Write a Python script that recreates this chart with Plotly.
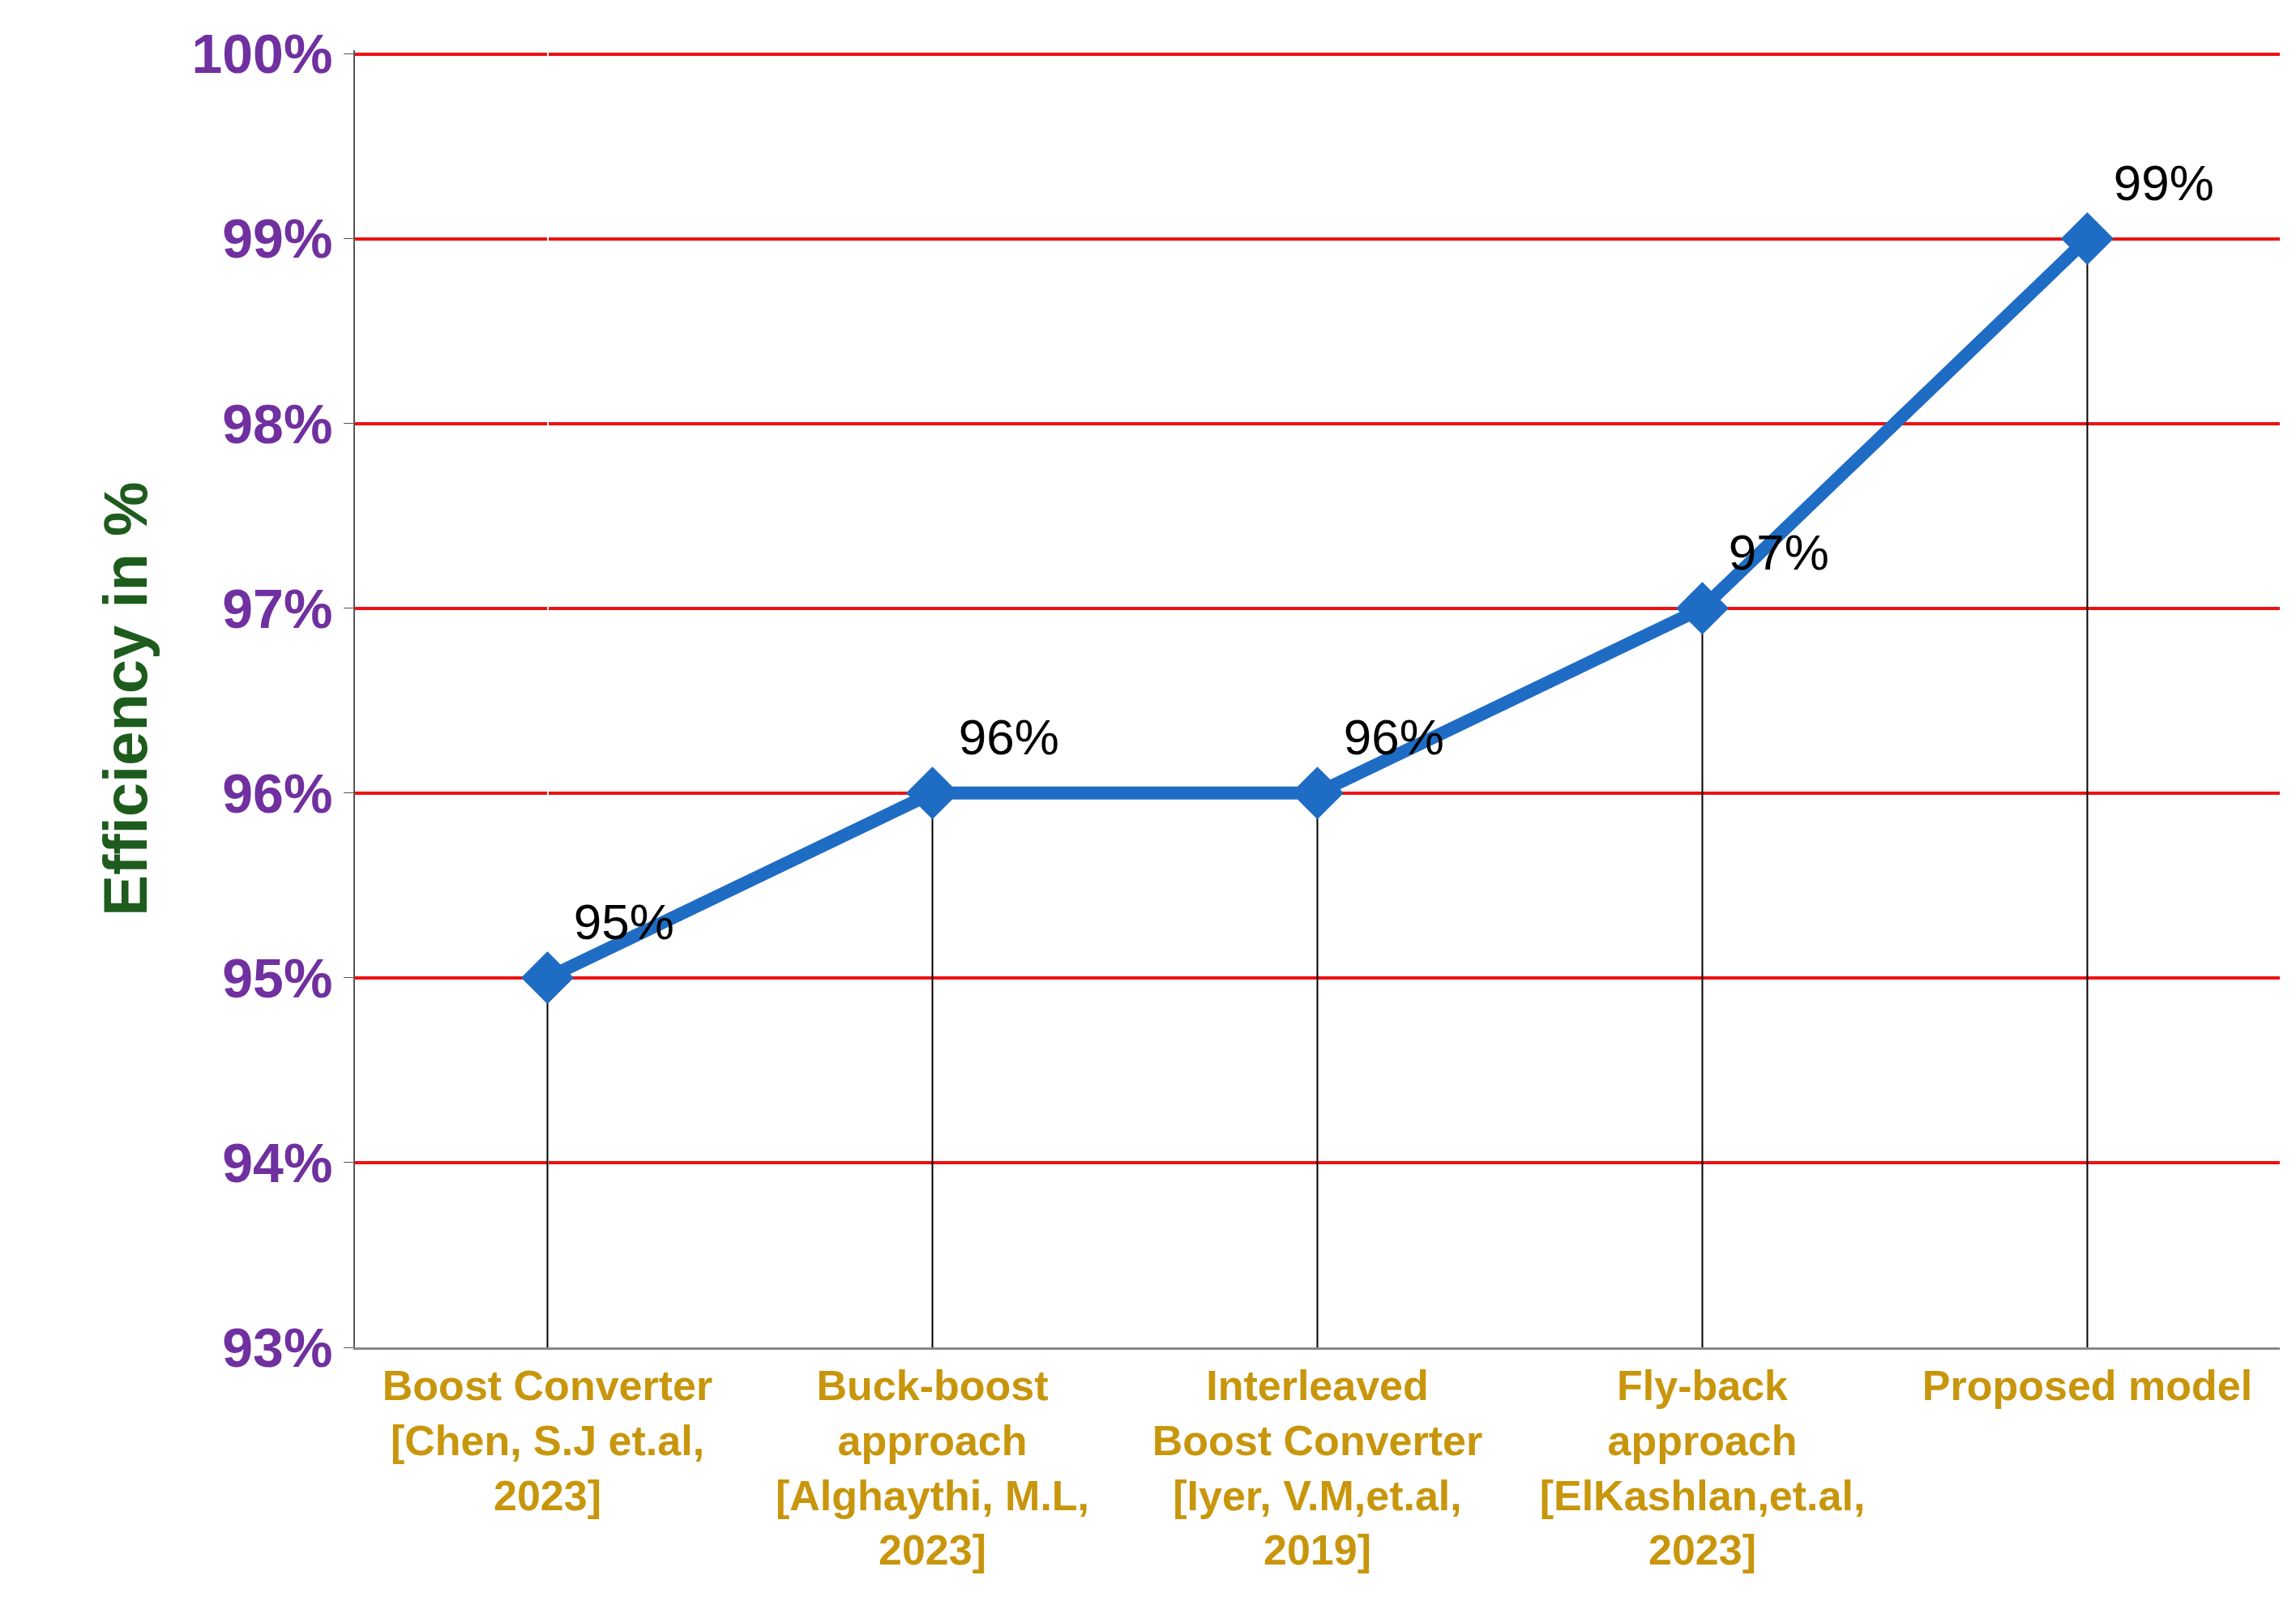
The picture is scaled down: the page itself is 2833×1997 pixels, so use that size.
import plotly.graph_objects as go

categories = ["Boost Converter<br>[Chen, S.J et.al,<br>2023]",
              "Buck-boost<br>approach<br>[Alghaythi, M.L,<br>2023]",
              "Interleaved<br>Boost Converter<br>[Iyer, V.M,et.al,<br>2019]",
              "Fly-back<br>approach<br>[ElKashlan,et.al,<br>2023]",
              "Proposed model"]
efficiency = [0.95, 0.96, 0.96, 0.97, 0.99]
labels = ["95%", "96%", "96%", "97%", "99%"]
y_base = 0.93

fig = go.Figure(go.Scatter(
    x=list(range(len(categories))), y=efficiency,
    mode="lines+markers+text", text=labels, textposition="top right",
    textfont=dict(size=62, color="black", family="Liberation Sans"),
    line=dict(color="#1f6cc4", width=16),
    marker=dict(symbol="diamond", size=50, color="#1f6cc4"),
    error_y=dict(type="data", symmetric=False, array=[0]*5,
                 arrayminus=[v - y_base for v in efficiency],
                 color="black", thickness=2, width=0),
    cliponaxis=False))

fig.update_layout(
    width=2833, height=1997, plot_bgcolor="white", paper_bgcolor="white",
    margin=dict(l=430, r=28, t=54, b=342), showlegend=False,
    xaxis=dict(range=[-0.5, 4.5], tickmode="array", tickvals=list(range(5)),
               ticktext=categories, showgrid=False, showline=True,
               linecolor="#888888", linewidth=3, ticks="",
               tickfont=dict(size=52, color="#C8960C", family="Liberation Sans", weight="bold")),
    yaxis=dict(range=[0.93, 1.0002], tickvals=[0.93, 0.94, 0.95, 0.96, 0.97, 0.98, 0.99, 1.0],
               tickformat=".0%",
               showgrid=True, gridcolor="#ee1111", gridwidth=4,
               showline=True, linecolor="#555555", linewidth=2, zeroline=False,
               ticks="outside", ticklen=12, tickcolor="#555555",
               tickfont=dict(size=68, color="#7030A0", family="Liberation Sans", weight="bold"),
               title=dict(text="<b>Efficiency in %</b>", standoff=30,
                          font=dict(size=76, color="#1e5c1e", family="Liberation Sans"))),
)
fig.write_html("out.html")
